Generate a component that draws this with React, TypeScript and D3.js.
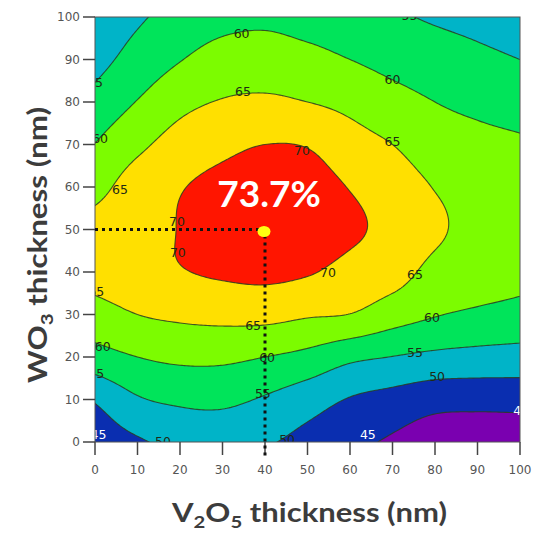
import { useMemo } from "react";
import * as d3 from "d3";

// V2O5 thickness (x) and WO3 thickness (y) grid, nm
const v2o5Grid = [0, 10, 20, 30, 40, 50, 60, 70, 80, 90, 100];
const wo3Grid = [0, 10, 20, 30, 40, 50, 60, 70, 80, 90, 100];

// efficiency, one row per WO3 thickness (bottom row first)
const effRows = [
  [46.5, 49.3, 51.5, 51.8, 50.6, 48.3, 46.5, 44.2, 42.0, 41.5, 41.5],
  [50.5, 54.5, 55.8, 56.0, 54.5, 52.2, 49.7, 48.3, 46.8, 46.6, 46.7],
  [58.1, 60.0, 61.0, 61.0, 60.0, 58.6, 56.1, 54.9, 53.9, 53.4, 53.1],
  [63.0, 65.0, 65.9, 66.4, 66.5, 65.5, 64.9, 62.3, 60.3, 59.2, 58.4],
  [66.8, 68.2, 69.7, 70.7, 71.2, 70.4, 68.5, 67.0, 63.6, 62.5, 61.5],
  [66.8, 68.2, 70.2, 72.5, 73.7, 72.8, 70.8, 68.7, 65.8, 63.5, 62.5],
  [63.3, 67.3, 69.7, 71.4, 72.5, 72.0, 69.8, 67.5, 64.8, 63.0, 62.0],
  [60.1, 63.9, 67.0, 68.8, 70.0, 69.7, 67.0, 65.0, 62.4, 61.3, 60.6],
  [56.6, 60.2, 63.6, 65.3, 65.8, 65.0, 63.7, 61.7, 60.0, 58.9, 58.0],
  [53.4, 56.8, 59.8, 61.8, 62.2, 61.4, 60.0, 58.5, 57.3, 56.1, 55.0],
  [52.0, 54.3, 57.0, 58.5, 59.0, 58.0, 57.0, 55.7, 54.4, 53.5, 52.5],
];

const levels = [45, 50, 55, 60, 65, 70];
const bandColors = ["#7a00b0", "#0a2eb0", "#00b4c8", "#00e45a", "#7cfc00", "#ffe000", "#ff1500"];
const ticks = [0, 10, 20, 30, 40, 50, 60, 70, 80, 90, 100];

// contour labels as drawn on the map: [V2O5, WO3, text, white?]
const contourLabels: [number, number, string, boolean][] = [
  [34.5, 96.2, "60", false],
  [0, 84.5, "55", false],
  [1.2, 71.5, "60", false],
  [5.9, 59.3, "65", false],
  [34.8, 82.4, "65", false],
  [19.3, 51.8, "70", false],
  [19.5, 44.5, "70", false],
  [48.7, 68.7, "70", false],
  [54.8, 40.0, "70", false],
  [70.0, 70.6, "65", false],
  [70.0, 85.4, "60", false],
  [74.0, 100.4, "55", false],
  [75.3, 39.3, "65", false],
  [79.3, 29.4, "60", false],
  [75.3, 21.0, "55", false],
  [80.5, 15.3, "50", false],
  [100.3, 7.5, "45", true],
  [64.2, 1.8, "45", true],
  [37.2, 27.5, "65", false],
  [40.5, 20.0, "60", false],
  [39.5, 11.5, "55", false],
  [0.3, 35.3, "65", false],
  [1.8, 22.4, "60", false],
  [0.3, 16.2, "55", false],
  [0.8, 1.8, "45", true],
  [16.0, 0.2, "50", false],
  [45.2, 0.6, "50", false],
];

const optimum = { v2o5: 40, wo3: 50, eff: "73.7%" };

// Catmull-Rom resampling of the read grid, only for drawing smooth contours
function resample(rows: number[][], step: number) {
  const nx = rows[0].length, ny = rows.length;
  const get = (r: number, c: number) => {
    const rr = Math.max(0, Math.min(ny - 1, r));
    const cc = Math.max(0, Math.min(nx - 1, c));
    let v = rows[rr][cc];
    if (r < 0) v = 2 * rows[0][cc] - rows[1][cc];
    if (r > ny - 1) v = 2 * rows[ny - 1][cc] - rows[ny - 2][cc];
    if (c < 0) v = 2 * rows[rr][0] - rows[rr][1];
    if (c > nx - 1) v = 2 * rows[rr][nx - 1] - rows[rr][nx - 2];
    return v;
  };
  const cr = (p0: number, p1: number, p2: number, p3: number, t: number) =>
    p1 + 0.5 * t * (p2 - p0 + t * (2 * p0 - 5 * p1 + 4 * p2 - p3 + t * (3 * (p1 - p2) + p3 - p0)));
  const n = Math.round(100 / step) + 1;
  const out = new Array(n * n);
  for (let j = 0; j < n; j++) {
    const gy = (j * step) / 10;
    const r = Math.min(ny - 2, Math.floor(gy));
    const ty = gy - r;
    for (let i = 0; i < n; i++) {
      const gx = (i * step) / 10;
      const c = Math.min(nx - 2, Math.floor(gx));
      const tx = gx - c;
      const col = [-1, 0, 1, 2].map((k) =>
        cr(get(r + k, c - 1), get(r + k, c), get(r + k, c + 1), get(r + k, c + 2), tx)
      );
      out[j * n + i] = cr(col[0], col[1], col[2], col[3], ty);
    }
  }
  return { n, values: out };
}

export default function App() {
  const width = 539, height = 533;
  const left = 95, right = 520, top = 17, bottom = 442;

  const x = d3.scaleLinear().domain([0, 100]).range([left, right]);
  const y = d3.scaleLinear().domain([0, 100]).range([bottom, top]);

  const step = 0.5;
  const bands = useMemo(() => {
    const { n, values } = resample(effRows, step);
    return d3.contours().size([n, n]).thresholds(levels)(values);
  }, []);

  const path = d3.geoPath(
    d3.geoTransform({
      point(px: number, py: number) {
        this.stream.point(x((px - 0.5) * step), y((py - 0.5) * step));
      },
    })
  );

  const titleFont = "Lato, 'Open Sans', sans-serif";

  return (
    <svg width={width} height={height} style={{ position: "absolute", left: 0, top: 0, background: "#fff" }}>
      <defs>
        <clipPath id="plot">
          <rect x={left} y={top} width={right - left} height={bottom - top} />
        </clipPath>
      </defs>
      <g clipPath="url(#plot)">
        <rect x={left} y={top} width={right - left} height={bottom - top} fill={bandColors[0]} />
        {bands.map((b, i) => (
          <path key={"f" + i} d={path(b) || ""} fill={bandColors[i + 1]} />
        ))}
        {bands.map((b, i) => (
          <path key={"s" + i} d={path(b) || ""} fill="none" stroke="#2b3b22" strokeWidth={1.1} strokeOpacity={0.85} />
        ))}
        {contourLabels.map(([vx, vy, t, white], i) => (
          <text
            key={"l" + i}
            x={x(vx)}
            y={y(vy)}
            textAnchor="middle"
            dominantBaseline="central"
            fontFamily="'DejaVu Sans', sans-serif"
            fontSize={12.5}
            fill={white ? "#ffffff" : "#1f2a14"}
          >
            {t}
          </text>
        ))}
      </g>
      <rect x={left} y={top} width={right - left} height={bottom - top} fill="none" stroke="#555" strokeWidth={1} />

      {/* axes */}
      {ticks.map((t) => (
        <g key={"yt" + t}>
          <line x1={left - 12} x2={left} y1={y(t)} y2={y(t)} stroke="#444" strokeWidth={1.5} />
          <text x={left - 15} y={y(t)} textAnchor="end" dominantBaseline="central" fontFamily="'DejaVu Sans', sans-serif" fontSize={12} fill="#555">
            {t}
          </text>
        </g>
      ))}
      {ticks.map((t) => (
        <g key={"xt" + t}>
          <line x1={x(t)} x2={x(t)} y1={bottom} y2={bottom + 13} stroke="#444" strokeWidth={1.5} />
          <text x={x(t)} y={bottom + 32} textAnchor="middle" fontFamily="'DejaVu Sans', sans-serif" fontSize={12} fill="#555">
            {t}
          </text>
        </g>
      ))}

      {/* optimum marker */}
      <line x1={x(0)} x2={x(optimum.v2o5) - 4} y1={y(optimum.wo3)} y2={y(optimum.wo3)} stroke="#111" strokeWidth={3} strokeDasharray="3 4" />
      <line x1={x(optimum.v2o5)} x2={x(optimum.v2o5)} y1={y(optimum.wo3) + 6} y2={bottom + 14} stroke="#111" strokeWidth={3} strokeDasharray="3 4" />
      <ellipse cx={x(optimum.v2o5) - 1} cy={y(optimum.wo3) + 2} rx={6.5} ry={5.5} fill="#ffff10" />
      <text x={x(optimum.v2o5) + 4} y={y(optimum.wo3) - 23} textAnchor="middle" fontFamily={titleFont} fontWeight={700} fontSize={37} fill="#fff">
        {optimum.eff}
      </text>

      {/* axis titles */}
      <text x={172} y={522} textLength={275} lengthAdjust="spacingAndGlyphs" fontFamily={titleFont} fontWeight={700} fontSize={26} fill="#3c3c3c">
        V<tspan fontSize={17} dy={6}>2</tspan>
        <tspan dy={-6}>O</tspan>
        <tspan fontSize={17} dy={6}>5</tspan>
        <tspan dy={-6}> thickness (nm)</tspan>
      </text>
      <text transform="translate(47,383) rotate(-90)" textLength={276} lengthAdjust="spacingAndGlyphs" fontFamily={titleFont} fontWeight={700} fontSize={26} fill="#3c3c3c">
        WO<tspan fontSize={17} dy={6}>3</tspan>
        <tspan dy={-6}> thickness (nm)</tspan>
      </text>
    </svg>
  );
}
